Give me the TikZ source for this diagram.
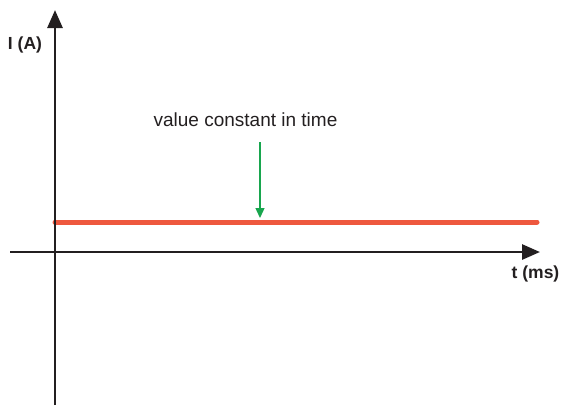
\documentclass[tikz,border=0pt]{standalone}
\usepackage{fontspec}
\setmainfont{Liberation Sans}
\usetikzlibrary{positioning}
\usetikzlibrary{arrows.meta}
\definecolor{axisgray}{RGB}{35,31,32}
\definecolor{currentred}{RGB}{238,88,62}
\definecolor{markgreen}{RGB}{24,166,78}
\begin{document}
\begin{tikzpicture}[x=1pt,y=-1pt,every node/.style={inner sep=0,outer sep=0,text=axisgray,font=\fontsize{17.5}{20}\selectfont}]
    \useasboundingbox (0,0) rectangle (561,405);
    \coordinate (I0) at (55,405);
    \coordinate (I1) at (55,10);
    \coordinate (T0) at (10,252);
    \coordinate (T1) at (540,252);
    \coordinate (C0) at (55,222);
    \coordinate (C1) at (537,222);
    \coordinate (M0) at (260,142);
    \coordinate (M1) at (260,218);
    \node (Lv) [font=\fontsize{19}{22}\selectfont] at (245.5,120) {value constant in time};
    \node (LI) at (25,45) {\bfseries I (A)};
    \node (Lt) at (535.5,274) {\bfseries t (ms)};
    \draw[currentred,line width=5pt,line cap=round] (C0) -- (C1);
    \path[axisgray,line width=2.8pt,-{Triangle[length=18pt,width=15pt]}]
        (I0) edge (I1)
        (T0) edge (T1);
    \draw[markgreen,line width=1.3pt,-{Triangle[length=10pt,width=9pt]}] (M0) -- (M1);
\end{tikzpicture}
\end{document}
